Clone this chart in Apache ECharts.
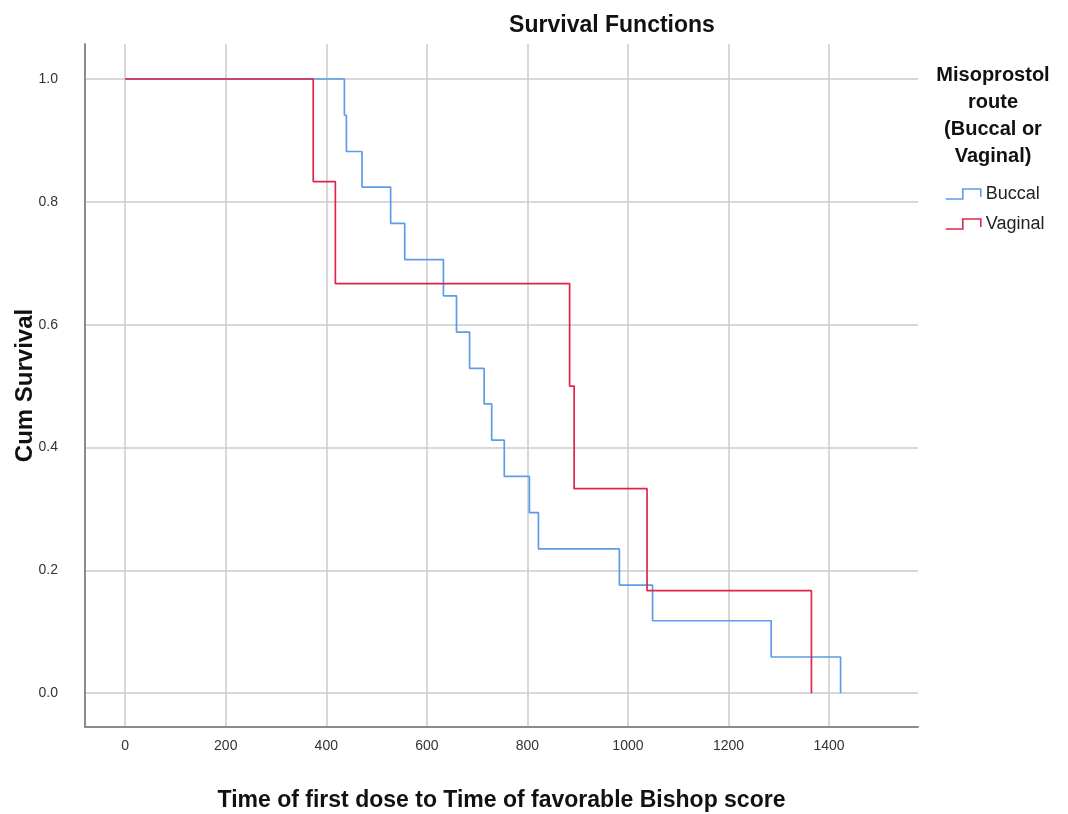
<!DOCTYPE html>
<html>
<head>
<meta charset="utf-8">
<script src="https://cdn.jsdelivr.net/npm/echarts@6/dist/echarts.min.js"></script>
<style>
html,body{margin:0;padding:0;background:#fff;}
#chart{width:1068px;height:814px;}
</style>
</head>
<body>
<div id="chart"></div>
<script>
// ---- data ----
var seriesNames = ['Buccal', 'Vaginal'];
var buccalTimes = [0, 436, 440, 471, 528, 556, 633, 659, 685, 714, 729, 754, 804, 822, 983, 1049, 1285, 1423];
var buccalSurv  = [1.0, 0.941, 0.882, 0.824, 0.765, 0.706, 0.647, 0.588, 0.529, 0.471, 0.412, 0.353, 0.294, 0.235, 0.176, 0.118, 0.059, 0.0];
var vaginalTimes = [0, 374, 418, 884, 893, 1038, 1365];
var vaginalSurv  = [1.0, 0.833, 0.667, 0.5, 0.333, 0.167, 0.0];
var xTicks = [0, 200, 400, 600, 800, 1000, 1200, 1400];
var yTicks = [0, 0.2, 0.4, 0.6, 0.8, 1.0];

var blue = '#5c9ce8';
var red = '#e0244c';

function pairs(xs, ys) {
  var out = [];
  for (var i = 0; i < xs.length; i++) out.push([xs[i], ys[i]]);
  return out;
}

var chart = echarts.init(document.getElementById('chart'), null, {renderer: 'canvas'});
var gridColor = '#cbcbcb';
var axisColor = '#8c8c8c';
var stepIcon = 'path://M0,10L17,10L17,0L35,0L35,8';
var tickFont = 'Liberation Sans';

chart.setOption({
  animation: false,
  backgroundColor: '#ffffff',
  title: [
    {
      text: 'Survival Functions',
      left: 607, top: 9, textAlign: 'center',
      textStyle: {fontFamily: 'Liberation Sans', fontSize: 23, fontWeight: 'bold', color: '#111'}
    },
    {
      text: 'Misoprostol\nroute\n(Buccal or\nVaginal)',
      left: 988, top: 57, textAlign: 'center',
      textStyle: {fontFamily: 'Liberation Sans', fontSize: 20, fontWeight: 'bold', color: '#111', lineHeight: 27}
    }
  ],
  legend: {
    orient: 'vertical',
    left: 945, top: 185,
    padding: 0,
    itemWidth: 35, itemHeight: 11,
    itemGap: 12,
    icon: stepIcon,
    textStyle: {fontFamily: 'Liberation Sans', fontSize: 18, color: '#222'},
    data: [
      {name: 'Buccal', itemStyle: {color: 'transparent', borderColor: blue, borderWidth: 1.6}},
      {name: 'Vaginal', itemStyle: {color: 'transparent', borderColor: red, borderWidth: 1.6}}
    ]
  },
  grid: {left: 85, top: 44, right: 150, bottom: 87, containLabel: false, outerBoundsMode: 'none'},
  xAxis: {
    type: 'value',
    min: -80, max: 1577,
    name: 'Time of first dose to Time of favorable Bishop score',
    nameLocation: 'middle', nameGap: 62,
    nameTextStyle: {fontFamily: 'Liberation Sans', fontSize: 23, fontWeight: 'bold', color: '#111'},
    axisLine: {show: true, onZero: false, lineStyle: {color: axisColor, width: 2}},
    axisTick: {show: false, customValues: xTicks},
    axisLabel: {customValues: xTicks, margin: 12, fontFamily: tickFont, fontSize: 14, color: '#333',
      formatter: function (v) { return String(v); }},
    splitLine: {show: true, lineStyle: {color: gridColor, width: 1.5}}
  },
  yAxis: {
    type: 'value',
    min: -0.055, max: 1.057,
    name: 'Cum Survival',
    nameLocation: 'middle', nameGap: 48, nameMoveOverlap: false,
    nameTextStyle: {fontFamily: 'Liberation Sans', fontSize: 24, fontWeight: 'bold', color: '#111'},
    axisLine: {show: true, onZero: false, lineStyle: {color: axisColor, width: 2}},
    axisTick: {show: false, customValues: yTicks},
    axisLabel: {customValues: yTicks, margin: 27, fontFamily: tickFont, fontSize: 14, color: '#333',
      formatter: function (v) { return v.toFixed(1); }},
    splitLine: {show: true, lineStyle: {color: gridColor, width: 1.5}}
  },
  series: [
    {
      name: 'Buccal', type: 'line', step: 'end', showSymbol: false, symbol: 'none',
      data: pairs(buccalTimes, buccalSurv),
      lineStyle: {color: blue, width: 1.7}, itemStyle: {color: blue}, z: 2
    },
    {
      name: 'Vaginal', type: 'line', step: 'end', showSymbol: false, symbol: 'none',
      data: pairs(vaginalTimes, vaginalSurv),
      lineStyle: {color: red, width: 1.7}, itemStyle: {color: red}, z: 3
    }
  ]
});
</script>
</body>
</html>
